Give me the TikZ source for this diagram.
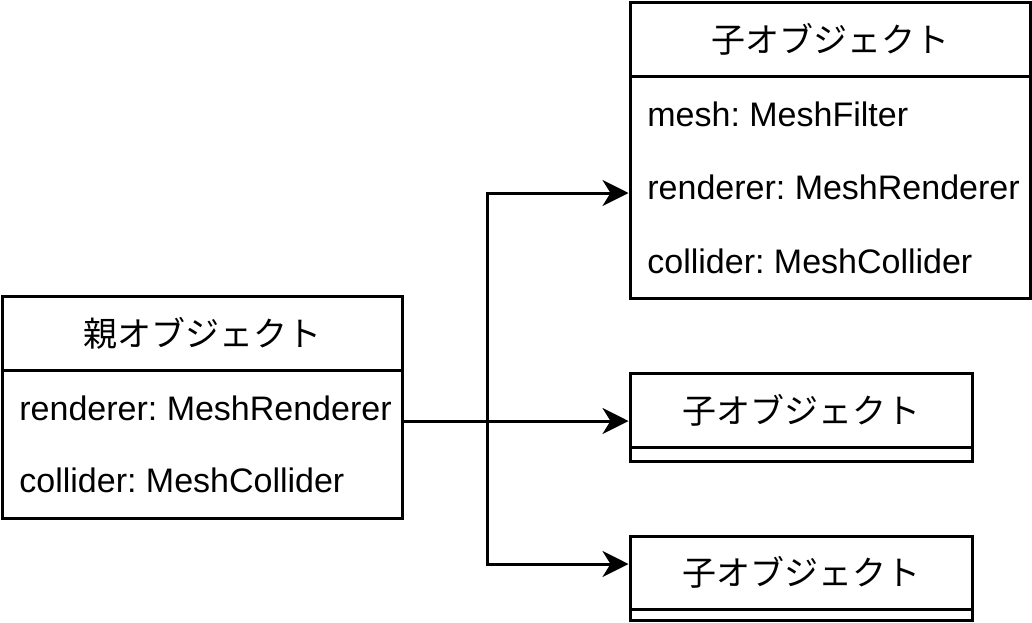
\documentclass[tikz,border=0pt]{standalone}
\usepackage{fontspec}
\setmainfont{Liberation Sans}
\newfontfamily\jpfont{Noto Sans CJK JP}
\usetikzlibrary{arrows.meta}
\frenchspacing
\tikzset{
    header/.style={
        rectangle, draw=black, line width=1.5pt,
        minimum width=200pt, minimum height=37pt,
        fill=white, inner sep=0pt, font=\jpfont\fontsize{17}{20}\selectfont
    },
    fields/.style={
        rectangle, draw=black, line width=1.5pt,
        minimum width=200pt, fill=white, inner sep=0pt
    },
    attr/.style={anchor=base west, inner sep=0pt, font=\fontsize{17}{20}\selectfont},
    wire/.style={draw=black, line width=1.5pt},
    link/.style={wire, -{Stealth[length=13pt, width=13pt, inset=4pt]}}
}

\begin{document}
\begin{tikzpicture}[x=0.5pt, y=-0.5pt]
\useasboundingbox (0,0) rectangle (1032,622);

% Parent object
\node[header] (phead) at (202,333) {親オブジェクト};
\node[fields, minimum height=74pt] (pbody) at (202,444) {};
\node[attr] (prend) at (19,420) {renderer: MeshRenderer};
\node[attr] (pcoll) at (19,492) {collider: MeshCollider};

% Child objects
\node[header] (c1head) at (830,39) {子オブジェクト};
\node[fields, minimum height=111pt] (c1body) at (830,187) {};
\node[attr] (c1mesh) at (647,126) {mesh: MeshFilter};
\node[attr] (c1rend) at (647,199) {renderer: MeshRenderer};
\node[attr] (c1coll) at (647,273) {collider: MeshCollider};

\node[header, minimum width=171pt] (c2head) at (801,410) {子オブジェクト};
\node[fields, minimum width=171pt, minimum height=7pt] (c2body) at (801,454) {};

\node[header, minimum width=171pt, minimum height=36.5pt] (c3head) at (801,572.5) {子オブジェクト};
\node[fields, minimum width=171pt, minimum height=5.5pt] (c3body) at (801,614.5) {};

% Connections
\coordinate (fork) at (487,421);
\draw[link] (pbody.east |- fork) -- (fork) |- ([yshift=-3pt]c1body.west);
\draw[link] (pbody.east |- fork) -- (c2head.west |- fork);
\draw[link] (pbody.east |- fork) -- (fork) |- ([yshift=4.25pt]c3head.west);

\end{tikzpicture}
\end{document}
